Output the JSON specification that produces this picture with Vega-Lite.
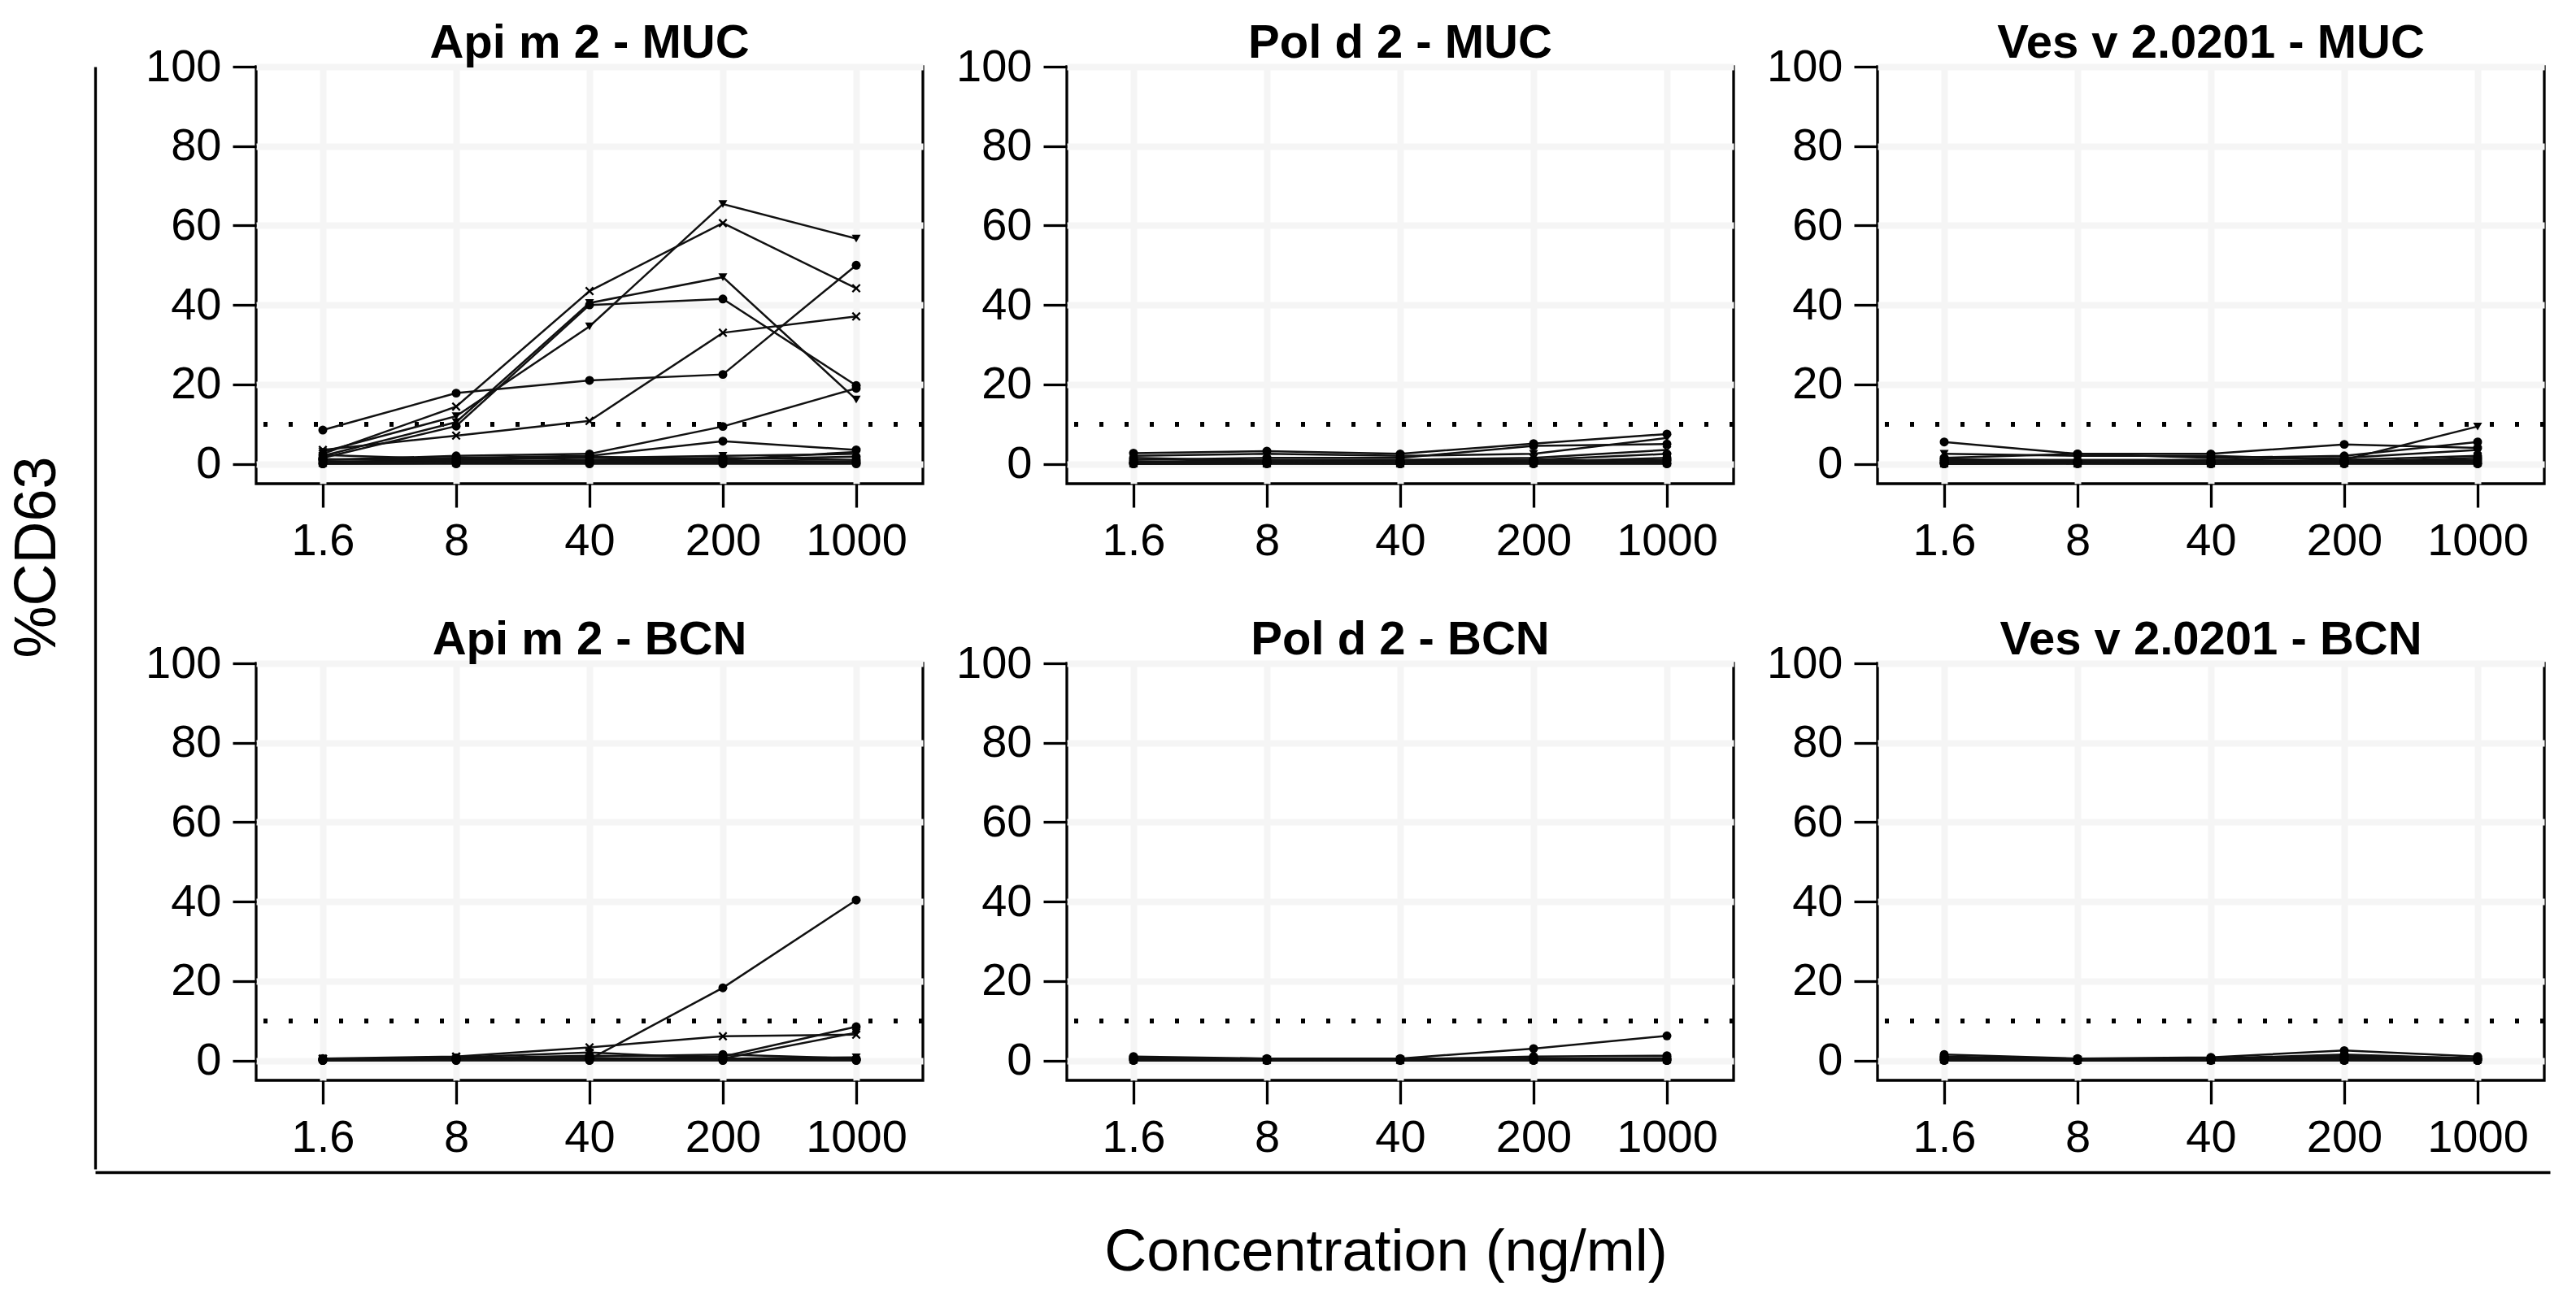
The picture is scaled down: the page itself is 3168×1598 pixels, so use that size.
{
"$schema": "https://vega.github.io/schema/vega-lite/v6.json",
"padding": {"left": 9, "top": 23, "right": 5, "bottom": 5},
"config": {"font": "Liberation Sans", "view": {"stroke": "black", "strokeWidth": 3.3}},
"datasets": {"d": [
{"p":"Api m 2 - MUC","s":1,"m":"t","c":1.6,"v":3.0},{"p":"Api m 2 - MUC","s":1,"m":"t","c":8,"v":12.0},{"p":"Api m 2 - MUC","s":1,"m":"t","c":40,"v":34.6},{"p":"Api m 2 - MUC","s":1,"m":"t","c":200,"v":65.4},{"p":"Api m 2 - MUC","s":1,"m":"t","c":1000,"v":56.7},
{"p":"Api m 2 - MUC","s":2,"m":"x","c":1.6,"v":2.5},{"p":"Api m 2 - MUC","s":2,"m":"x","c":8,"v":14.4},{"p":"Api m 2 - MUC","s":2,"m":"x","c":40,"v":43.5},{"p":"Api m 2 - MUC","s":2,"m":"x","c":200,"v":60.6},{"p":"Api m 2 - MUC","s":2,"m":"x","c":1000,"v":44.2},
{"p":"Api m 2 - MUC","s":3,"m":"t","c":1.6,"v":2.0},{"p":"Api m 2 - MUC","s":3,"m":"t","c":8,"v":10.5},{"p":"Api m 2 - MUC","s":3,"m":"t","c":40,"v":40.5},{"p":"Api m 2 - MUC","s":3,"m":"t","c":200,"v":47.0},{"p":"Api m 2 - MUC","s":3,"m":"t","c":1000,"v":16.2},
{"p":"Api m 2 - MUC","s":4,"m":"c","c":1.6,"v":1.5},{"p":"Api m 2 - MUC","s":4,"m":"c","c":8,"v":9.5},{"p":"Api m 2 - MUC","s":4,"m":"c","c":40,"v":40.0},{"p":"Api m 2 - MUC","s":4,"m":"c","c":200,"v":41.5},{"p":"Api m 2 - MUC","s":4,"m":"c","c":1000,"v":19.7},
{"p":"Api m 2 - MUC","s":5,"m":"c","c":1.6,"v":8.5},{"p":"Api m 2 - MUC","s":5,"m":"c","c":8,"v":17.8},{"p":"Api m 2 - MUC","s":5,"m":"c","c":40,"v":21.0},{"p":"Api m 2 - MUC","s":5,"m":"c","c":200,"v":22.5},{"p":"Api m 2 - MUC","s":5,"m":"c","c":1000,"v":50.0},
{"p":"Api m 2 - MUC","s":6,"m":"x","c":1.6,"v":3.5},{"p":"Api m 2 - MUC","s":6,"m":"x","c":8,"v":7.1},{"p":"Api m 2 - MUC","s":6,"m":"x","c":40,"v":10.8},{"p":"Api m 2 - MUC","s":6,"m":"x","c":200,"v":33.0},{"p":"Api m 2 - MUC","s":6,"m":"x","c":1000,"v":37.1},
{"p":"Api m 2 - MUC","s":7,"m":"c","c":1.6,"v":1.0},{"p":"Api m 2 - MUC","s":7,"m":"c","c":8,"v":2.0},{"p":"Api m 2 - MUC","s":7,"m":"c","c":40,"v":2.5},{"p":"Api m 2 - MUC","s":7,"m":"c","c":200,"v":9.4},{"p":"Api m 2 - MUC","s":7,"m":"c","c":1000,"v":19.0},
{"p":"Api m 2 - MUC","s":8,"m":"c","c":1.6,"v":1.0},{"p":"Api m 2 - MUC","s":8,"m":"c","c":8,"v":1.5},{"p":"Api m 2 - MUC","s":8,"m":"c","c":40,"v":2.0},{"p":"Api m 2 - MUC","s":8,"m":"c","c":200,"v":5.7},{"p":"Api m 2 - MUC","s":8,"m":"c","c":1000,"v":3.5},
{"p":"Api m 2 - MUC","s":9,"m":"t","c":1.6,"v":0.5},{"p":"Api m 2 - MUC","s":9,"m":"t","c":8,"v":1.0},{"p":"Api m 2 - MUC","s":9,"m":"t","c":40,"v":1.5},{"p":"Api m 2 - MUC","s":9,"m":"t","c":200,"v":2.0},{"p":"Api m 2 - MUC","s":9,"m":"t","c":1000,"v":2.5},
{"p":"Api m 2 - MUC","s":10,"m":"c","c":1.6,"v":0.5},{"p":"Api m 2 - MUC","s":10,"m":"c","c":8,"v":0.5},{"p":"Api m 2 - MUC","s":10,"m":"c","c":40,"v":1.0},{"p":"Api m 2 - MUC","s":10,"m":"c","c":200,"v":1.5},{"p":"Api m 2 - MUC","s":10,"m":"c","c":1000,"v":1.0},
{"p":"Api m 2 - MUC","s":11,"m":"x","c":1.6,"v":0.2},{"p":"Api m 2 - MUC","s":11,"m":"x","c":8,"v":0.3},{"p":"Api m 2 - MUC","s":11,"m":"x","c":40,"v":0.5},{"p":"Api m 2 - MUC","s":11,"m":"x","c":200,"v":0.5},{"p":"Api m 2 - MUC","s":11,"m":"x","c":1000,"v":0.5},
{"p":"Api m 2 - MUC","s":12,"m":"c","c":1.6,"v":0.0},{"p":"Api m 2 - MUC","s":12,"m":"c","c":8,"v":0.2},{"p":"Api m 2 - MUC","s":12,"m":"c","c":40,"v":0.2},{"p":"Api m 2 - MUC","s":12,"m":"c","c":200,"v":0.3},{"p":"Api m 2 - MUC","s":12,"m":"c","c":1000,"v":0.2},
{"p":"Api m 2 - MUC","s":13,"m":"c","c":1.6,"v":0.0},{"p":"Api m 2 - MUC","s":13,"m":"c","c":8,"v":0.0},{"p":"Api m 2 - MUC","s":13,"m":"c","c":40,"v":0.0},{"p":"Api m 2 - MUC","s":13,"m":"c","c":200,"v":0.0},{"p":"Api m 2 - MUC","s":13,"m":"c","c":1000,"v":0.0},
{"p":"Api m 2 - MUC","s":14,"m":"t","c":1.6,"v":0.3},{"p":"Api m 2 - MUC","s":14,"m":"t","c":8,"v":0.5},{"p":"Api m 2 - MUC","s":14,"m":"t","c":40,"v":0.8},{"p":"Api m 2 - MUC","s":14,"m":"t","c":200,"v":1.0},{"p":"Api m 2 - MUC","s":14,"m":"t","c":1000,"v":3.0},
{"p":"Api m 2 - MUC","s":15,"m":"c","c":1.6,"v":2.2},{"p":"Api m 2 - MUC","s":15,"m":"c","c":8,"v":1.2},{"p":"Api m 2 - MUC","s":15,"m":"c","c":40,"v":1.8},{"p":"Api m 2 - MUC","s":15,"m":"c","c":200,"v":1.2},{"p":"Api m 2 - MUC","s":15,"m":"c","c":1000,"v":1.8},
{"p":"Api m 2 - MUC","s":16,"m":"c","c":1.6,"v":1.2},{"p":"Api m 2 - MUC","s":16,"m":"c","c":8,"v":0.8},{"p":"Api m 2 - MUC","s":16,"m":"c","c":40,"v":0.6},{"p":"Api m 2 - MUC","s":16,"m":"c","c":200,"v":0.8},{"p":"Api m 2 - MUC","s":16,"m":"c","c":1000,"v":0.6},

{"p":"Pol d 2 - MUC","s":1,"m":"c","c":1.6,"v":2.7},{"p":"Pol d 2 - MUC","s":1,"m":"c","c":8,"v":3.2},{"p":"Pol d 2 - MUC","s":1,"m":"c","c":40,"v":2.5},{"p":"Pol d 2 - MUC","s":1,"m":"c","c":200,"v":5.1},{"p":"Pol d 2 - MUC","s":1,"m":"c","c":1000,"v":7.5},
{"p":"Pol d 2 - MUC","s":2,"m":"t","c":1.6,"v":2.0},{"p":"Pol d 2 - MUC","s":2,"m":"t","c":8,"v":2.5},{"p":"Pol d 2 - MUC","s":2,"m":"t","c":40,"v":2.0},{"p":"Pol d 2 - MUC","s":2,"m":"t","c":200,"v":2.5},{"p":"Pol d 2 - MUC","s":2,"m":"t","c":1000,"v":6.5},
{"p":"Pol d 2 - MUC","s":3,"m":"c","c":1.6,"v":1.0},{"p":"Pol d 2 - MUC","s":3,"m":"c","c":8,"v":1.5},{"p":"Pol d 2 - MUC","s":3,"m":"c","c":40,"v":1.5},{"p":"Pol d 2 - MUC","s":3,"m":"c","c":200,"v":4.5},{"p":"Pol d 2 - MUC","s":3,"m":"c","c":1000,"v":5.0},
{"p":"Pol d 2 - MUC","s":4,"m":"x","c":1.6,"v":0.5},{"p":"Pol d 2 - MUC","s":4,"m":"x","c":8,"v":1.0},{"p":"Pol d 2 - MUC","s":4,"m":"x","c":40,"v":1.0},{"p":"Pol d 2 - MUC","s":4,"m":"x","c":200,"v":1.5},{"p":"Pol d 2 - MUC","s":4,"m":"x","c":1000,"v":3.5},
{"p":"Pol d 2 - MUC","s":5,"m":"c","c":1.6,"v":0.3},{"p":"Pol d 2 - MUC","s":5,"m":"c","c":8,"v":0.5},{"p":"Pol d 2 - MUC","s":5,"m":"c","c":40,"v":0.8},{"p":"Pol d 2 - MUC","s":5,"m":"c","c":200,"v":1.0},{"p":"Pol d 2 - MUC","s":5,"m":"c","c":1000,"v":2.5},
{"p":"Pol d 2 - MUC","s":6,"m":"c","c":1.6,"v":0.2},{"p":"Pol d 2 - MUC","s":6,"m":"c","c":8,"v":0.3},{"p":"Pol d 2 - MUC","s":6,"m":"c","c":40,"v":0.5},{"p":"Pol d 2 - MUC","s":6,"m":"c","c":200,"v":0.5},{"p":"Pol d 2 - MUC","s":6,"m":"c","c":1000,"v":1.5},
{"p":"Pol d 2 - MUC","s":7,"m":"t","c":1.6,"v":0.0},{"p":"Pol d 2 - MUC","s":7,"m":"t","c":8,"v":0.2},{"p":"Pol d 2 - MUC","s":7,"m":"t","c":40,"v":0.2},{"p":"Pol d 2 - MUC","s":7,"m":"t","c":200,"v":0.3},{"p":"Pol d 2 - MUC","s":7,"m":"t","c":1000,"v":0.5},
{"p":"Pol d 2 - MUC","s":8,"m":"c","c":1.6,"v":0.0},{"p":"Pol d 2 - MUC","s":8,"m":"c","c":8,"v":0.0},{"p":"Pol d 2 - MUC","s":8,"m":"c","c":40,"v":0.0},{"p":"Pol d 2 - MUC","s":8,"m":"c","c":200,"v":0.0},{"p":"Pol d 2 - MUC","s":8,"m":"c","c":1000,"v":0.0},
{"p":"Pol d 2 - MUC","s":9,"m":"c","c":1.6,"v":0.5},{"p":"Pol d 2 - MUC","s":9,"m":"c","c":8,"v":0.5},{"p":"Pol d 2 - MUC","s":9,"m":"c","c":40,"v":0.3},{"p":"Pol d 2 - MUC","s":9,"m":"c","c":200,"v":0.5},{"p":"Pol d 2 - MUC","s":9,"m":"c","c":1000,"v":1.0},
{"p":"Pol d 2 - MUC","s":10,"m":"x","c":1.6,"v":0.1},{"p":"Pol d 2 - MUC","s":10,"m":"x","c":8,"v":0.1},{"p":"Pol d 2 - MUC","s":10,"m":"x","c":40,"v":0.1},{"p":"Pol d 2 - MUC","s":10,"m":"x","c":200,"v":0.2},{"p":"Pol d 2 - MUC","s":10,"m":"x","c":1000,"v":0.3},
{"p":"Pol d 2 - MUC","s":11,"m":"c","c":1.6,"v":1.5},{"p":"Pol d 2 - MUC","s":11,"m":"c","c":8,"v":0.8},{"p":"Pol d 2 - MUC","s":11,"m":"c","c":40,"v":0.5},{"p":"Pol d 2 - MUC","s":11,"m":"c","c":200,"v":1.0},{"p":"Pol d 2 - MUC","s":11,"m":"c","c":1000,"v":0.8},
{"p":"Pol d 2 - MUC","s":12,"m":"c","c":1.6,"v":0.0},{"p":"Pol d 2 - MUC","s":12,"m":"c","c":8,"v":0.1},{"p":"Pol d 2 - MUC","s":12,"m":"c","c":40,"v":0.0},{"p":"Pol d 2 - MUC","s":12,"m":"c","c":200,"v":0.1},{"p":"Pol d 2 - MUC","s":12,"m":"c","c":1000,"v":0.1},

{"p":"Ves v 2.0201 - MUC","s":1,"m":"c","c":1.6,"v":5.5},{"p":"Ves v 2.0201 - MUC","s":1,"m":"c","c":8,"v":2.5},{"p":"Ves v 2.0201 - MUC","s":1,"m":"c","c":40,"v":2.5},{"p":"Ves v 2.0201 - MUC","s":1,"m":"c","c":200,"v":4.9},{"p":"Ves v 2.0201 - MUC","s":1,"m":"c","c":1000,"v":4.0},
{"p":"Ves v 2.0201 - MUC","s":2,"m":"t","c":1.6,"v":2.5},{"p":"Ves v 2.0201 - MUC","s":2,"m":"t","c":8,"v":2.0},{"p":"Ves v 2.0201 - MUC","s":2,"m":"t","c":40,"v":2.0},{"p":"Ves v 2.0201 - MUC","s":2,"m":"t","c":200,"v":1.0},{"p":"Ves v 2.0201 - MUC","s":2,"m":"t","c":1000,"v":9.4},
{"p":"Ves v 2.0201 - MUC","s":3,"m":"c","c":1.6,"v":1.5},{"p":"Ves v 2.0201 - MUC","s":3,"m":"c","c":8,"v":2.5},{"p":"Ves v 2.0201 - MUC","s":3,"m":"c","c":40,"v":1.5},{"p":"Ves v 2.0201 - MUC","s":3,"m":"c","c":200,"v":2.0},{"p":"Ves v 2.0201 - MUC","s":3,"m":"c","c":1000,"v":5.5},
{"p":"Ves v 2.0201 - MUC","s":4,"m":"x","c":1.6,"v":1.0},{"p":"Ves v 2.0201 - MUC","s":4,"m":"x","c":8,"v":1.0},{"p":"Ves v 2.0201 - MUC","s":4,"m":"x","c":40,"v":1.0},{"p":"Ves v 2.0201 - MUC","s":4,"m":"x","c":200,"v":1.5},{"p":"Ves v 2.0201 - MUC","s":4,"m":"x","c":1000,"v":3.5},
{"p":"Ves v 2.0201 - MUC","s":5,"m":"c","c":1.6,"v":0.5},{"p":"Ves v 2.0201 - MUC","s":5,"m":"c","c":8,"v":0.5},{"p":"Ves v 2.0201 - MUC","s":5,"m":"c","c":40,"v":0.5},{"p":"Ves v 2.0201 - MUC","s":5,"m":"c","c":200,"v":1.0},{"p":"Ves v 2.0201 - MUC","s":5,"m":"c","c":1000,"v":2.0},
{"p":"Ves v 2.0201 - MUC","s":6,"m":"c","c":1.6,"v":0.3},{"p":"Ves v 2.0201 - MUC","s":6,"m":"c","c":8,"v":0.3},{"p":"Ves v 2.0201 - MUC","s":6,"m":"c","c":40,"v":0.3},{"p":"Ves v 2.0201 - MUC","s":6,"m":"c","c":200,"v":0.5},{"p":"Ves v 2.0201 - MUC","s":6,"m":"c","c":1000,"v":1.0},
{"p":"Ves v 2.0201 - MUC","s":7,"m":"t","c":1.6,"v":0.0},{"p":"Ves v 2.0201 - MUC","s":7,"m":"t","c":8,"v":0.2},{"p":"Ves v 2.0201 - MUC","s":7,"m":"t","c":40,"v":0.2},{"p":"Ves v 2.0201 - MUC","s":7,"m":"t","c":200,"v":0.3},{"p":"Ves v 2.0201 - MUC","s":7,"m":"t","c":1000,"v":0.5},
{"p":"Ves v 2.0201 - MUC","s":8,"m":"c","c":1.6,"v":0.0},{"p":"Ves v 2.0201 - MUC","s":8,"m":"c","c":8,"v":0.0},{"p":"Ves v 2.0201 - MUC","s":8,"m":"c","c":40,"v":0.0},{"p":"Ves v 2.0201 - MUC","s":8,"m":"c","c":200,"v":0.0},{"p":"Ves v 2.0201 - MUC","s":8,"m":"c","c":1000,"v":0.0},
{"p":"Ves v 2.0201 - MUC","s":9,"m":"c","c":1.6,"v":0.8},{"p":"Ves v 2.0201 - MUC","s":9,"m":"c","c":8,"v":0.5},{"p":"Ves v 2.0201 - MUC","s":9,"m":"c","c":40,"v":0.8},{"p":"Ves v 2.0201 - MUC","s":9,"m":"c","c":200,"v":0.5},{"p":"Ves v 2.0201 - MUC","s":9,"m":"c","c":1000,"v":1.5},
{"p":"Ves v 2.0201 - MUC","s":10,"m":"x","c":1.6,"v":0.1},{"p":"Ves v 2.0201 - MUC","s":10,"m":"x","c":8,"v":0.1},{"p":"Ves v 2.0201 - MUC","s":10,"m":"x","c":40,"v":0.1},{"p":"Ves v 2.0201 - MUC","s":10,"m":"x","c":200,"v":0.2},{"p":"Ves v 2.0201 - MUC","s":10,"m":"x","c":1000,"v":0.3},
{"p":"Ves v 2.0201 - MUC","s":11,"m":"c","c":1.6,"v":1.2},{"p":"Ves v 2.0201 - MUC","s":11,"m":"c","c":8,"v":0.8},{"p":"Ves v 2.0201 - MUC","s":11,"m":"c","c":40,"v":0.5},{"p":"Ves v 2.0201 - MUC","s":11,"m":"c","c":200,"v":0.8},{"p":"Ves v 2.0201 - MUC","s":11,"m":"c","c":1000,"v":0.6},
{"p":"Ves v 2.0201 - MUC","s":12,"m":"c","c":1.6,"v":0.0},{"p":"Ves v 2.0201 - MUC","s":12,"m":"c","c":8,"v":0.1},{"p":"Ves v 2.0201 - MUC","s":12,"m":"c","c":40,"v":0.0},{"p":"Ves v 2.0201 - MUC","s":12,"m":"c","c":200,"v":0.1},{"p":"Ves v 2.0201 - MUC","s":12,"m":"c","c":1000,"v":0.1},

{"p":"Api m 2 - BCN","s":1,"m":"c","c":1.6,"v":0.2},{"p":"Api m 2 - BCN","s":1,"m":"c","c":8,"v":0.5},{"p":"Api m 2 - BCN","s":1,"m":"c","c":40,"v":0.3},{"p":"Api m 2 - BCN","s":1,"m":"c","c":200,"v":18.3},{"p":"Api m 2 - BCN","s":1,"m":"c","c":1000,"v":40.4},
{"p":"Api m 2 - BCN","s":2,"m":"x","c":1.6,"v":0.5},{"p":"Api m 2 - BCN","s":2,"m":"x","c":8,"v":1.0},{"p":"Api m 2 - BCN","s":2,"m":"x","c":40,"v":3.3},{"p":"Api m 2 - BCN","s":2,"m":"x","c":200,"v":6.1},{"p":"Api m 2 - BCN","s":2,"m":"x","c":1000,"v":6.5},
{"p":"Api m 2 - BCN","s":3,"m":"c","c":1.6,"v":0.3},{"p":"Api m 2 - BCN","s":3,"m":"c","c":8,"v":0.6},{"p":"Api m 2 - BCN","s":3,"m":"c","c":40,"v":1.2},{"p":"Api m 2 - BCN","s":3,"m":"c","c":200,"v":1.0},{"p":"Api m 2 - BCN","s":3,"m":"c","c":1000,"v":8.5},
{"p":"Api m 2 - BCN","s":4,"m":"t","c":1.6,"v":0.2},{"p":"Api m 2 - BCN","s":4,"m":"t","c":8,"v":0.8},{"p":"Api m 2 - BCN","s":4,"m":"t","c":40,"v":2.0},{"p":"Api m 2 - BCN","s":4,"m":"t","c":200,"v":0.5},{"p":"Api m 2 - BCN","s":4,"m":"t","c":1000,"v":7.0},
{"p":"Api m 2 - BCN","s":5,"m":"c","c":1.6,"v":0.5},{"p":"Api m 2 - BCN","s":5,"m":"c","c":8,"v":0.5},{"p":"Api m 2 - BCN","s":5,"m":"c","c":40,"v":1.0},{"p":"Api m 2 - BCN","s":5,"m":"c","c":200,"v":1.5},{"p":"Api m 2 - BCN","s":5,"m":"c","c":1000,"v":0.5},
{"p":"Api m 2 - BCN","s":6,"m":"c","c":1.6,"v":0.0},{"p":"Api m 2 - BCN","s":6,"m":"c","c":8,"v":0.2},{"p":"Api m 2 - BCN","s":6,"m":"c","c":40,"v":0.3},{"p":"Api m 2 - BCN","s":6,"m":"c","c":200,"v":0.2},{"p":"Api m 2 - BCN","s":6,"m":"c","c":1000,"v":0.3},
{"p":"Api m 2 - BCN","s":7,"m":"c","c":1.6,"v":0.0},{"p":"Api m 2 - BCN","s":7,"m":"c","c":8,"v":0.0},{"p":"Api m 2 - BCN","s":7,"m":"c","c":40,"v":0.0},{"p":"Api m 2 - BCN","s":7,"m":"c","c":200,"v":0.0},{"p":"Api m 2 - BCN","s":7,"m":"c","c":1000,"v":0.0},
{"p":"Api m 2 - BCN","s":8,"m":"t","c":1.6,"v":0.3},{"p":"Api m 2 - BCN","s":8,"m":"t","c":8,"v":0.3},{"p":"Api m 2 - BCN","s":8,"m":"t","c":40,"v":0.5},{"p":"Api m 2 - BCN","s":8,"m":"t","c":200,"v":0.5},{"p":"Api m 2 - BCN","s":8,"m":"t","c":1000,"v":0.8},
{"p":"Api m 2 - BCN","s":9,"m":"c","c":1.6,"v":0.1},{"p":"Api m 2 - BCN","s":9,"m":"c","c":8,"v":0.1},{"p":"Api m 2 - BCN","s":9,"m":"c","c":40,"v":0.2},{"p":"Api m 2 - BCN","s":9,"m":"c","c":200,"v":0.3},{"p":"Api m 2 - BCN","s":9,"m":"c","c":1000,"v":0.2},
{"p":"Api m 2 - BCN","s":10,"m":"c","c":1.6,"v":0.4},{"p":"Api m 2 - BCN","s":10,"m":"c","c":8,"v":0.2},{"p":"Api m 2 - BCN","s":10,"m":"c","c":40,"v":0.1},{"p":"Api m 2 - BCN","s":10,"m":"c","c":200,"v":0.1},{"p":"Api m 2 - BCN","s":10,"m":"c","c":1000,"v":0.1},

{"p":"Pol d 2 - BCN","s":1,"m":"c","c":1.6,"v":1.0},{"p":"Pol d 2 - BCN","s":1,"m":"c","c":8,"v":0.5},{"p":"Pol d 2 - BCN","s":1,"m":"c","c":40,"v":0.5},{"p":"Pol d 2 - BCN","s":1,"m":"c","c":200,"v":3.0},{"p":"Pol d 2 - BCN","s":1,"m":"c","c":1000,"v":6.2},
{"p":"Pol d 2 - BCN","s":2,"m":"c","c":1.6,"v":0.5},{"p":"Pol d 2 - BCN","s":2,"m":"c","c":8,"v":0.3},{"p":"Pol d 2 - BCN","s":2,"m":"c","c":40,"v":0.3},{"p":"Pol d 2 - BCN","s":2,"m":"c","c":200,"v":1.0},{"p":"Pol d 2 - BCN","s":2,"m":"c","c":1000,"v":1.2},
{"p":"Pol d 2 - BCN","s":3,"m":"t","c":1.6,"v":0.3},{"p":"Pol d 2 - BCN","s":3,"m":"t","c":8,"v":0.2},{"p":"Pol d 2 - BCN","s":3,"m":"t","c":40,"v":0.2},{"p":"Pol d 2 - BCN","s":3,"m":"t","c":200,"v":0.3},{"p":"Pol d 2 - BCN","s":3,"m":"t","c":1000,"v":0.5},
{"p":"Pol d 2 - BCN","s":4,"m":"c","c":1.6,"v":0.0},{"p":"Pol d 2 - BCN","s":4,"m":"c","c":8,"v":0.0},{"p":"Pol d 2 - BCN","s":4,"m":"c","c":40,"v":0.0},{"p":"Pol d 2 - BCN","s":4,"m":"c","c":200,"v":0.0},{"p":"Pol d 2 - BCN","s":4,"m":"c","c":1000,"v":0.0},
{"p":"Pol d 2 - BCN","s":5,"m":"x","c":1.6,"v":0.2},{"p":"Pol d 2 - BCN","s":5,"m":"x","c":8,"v":0.1},{"p":"Pol d 2 - BCN","s":5,"m":"x","c":40,"v":0.1},{"p":"Pol d 2 - BCN","s":5,"m":"x","c":200,"v":0.2},{"p":"Pol d 2 - BCN","s":5,"m":"x","c":1000,"v":0.2},
{"p":"Pol d 2 - BCN","s":6,"m":"c","c":1.6,"v":0.6},{"p":"Pol d 2 - BCN","s":6,"m":"c","c":8,"v":0.4},{"p":"Pol d 2 - BCN","s":6,"m":"c","c":40,"v":0.3},{"p":"Pol d 2 - BCN","s":6,"m":"c","c":200,"v":0.5},{"p":"Pol d 2 - BCN","s":6,"m":"c","c":1000,"v":0.4},
{"p":"Pol d 2 - BCN","s":7,"m":"c","c":1.6,"v":0.1},{"p":"Pol d 2 - BCN","s":7,"m":"c","c":8,"v":0.0},{"p":"Pol d 2 - BCN","s":7,"m":"c","c":40,"v":0.1},{"p":"Pol d 2 - BCN","s":7,"m":"c","c":200,"v":0.1},{"p":"Pol d 2 - BCN","s":7,"m":"c","c":1000,"v":0.0},
{"p":"Pol d 2 - BCN","s":8,"m":"c","c":1.6,"v":0.3},{"p":"Pol d 2 - BCN","s":8,"m":"c","c":8,"v":0.2},{"p":"Pol d 2 - BCN","s":8,"m":"c","c":40,"v":0.4},{"p":"Pol d 2 - BCN","s":8,"m":"c","c":200,"v":0.2},{"p":"Pol d 2 - BCN","s":8,"m":"c","c":1000,"v":0.3},
{"p":"Pol d 2 - BCN","s":9,"m":"t","c":1.6,"v":0.0},{"p":"Pol d 2 - BCN","s":9,"m":"t","c":8,"v":0.1},{"p":"Pol d 2 - BCN","s":9,"m":"t","c":40,"v":0.0},{"p":"Pol d 2 - BCN","s":9,"m":"t","c":200,"v":0.1},{"p":"Pol d 2 - BCN","s":9,"m":"t","c":1000,"v":0.1},
{"p":"Pol d 2 - BCN","s":10,"m":"c","c":1.6,"v":0.8},{"p":"Pol d 2 - BCN","s":10,"m":"c","c":8,"v":0.3},{"p":"Pol d 2 - BCN","s":10,"m":"c","c":40,"v":0.2},{"p":"Pol d 2 - BCN","s":10,"m":"c","c":200,"v":0.4},{"p":"Pol d 2 - BCN","s":10,"m":"c","c":1000,"v":0.6},

{"p":"Ves v 2.0201 - BCN","s":1,"m":"c","c":1.6,"v":1.5},{"p":"Ves v 2.0201 - BCN","s":1,"m":"c","c":8,"v":0.5},{"p":"Ves v 2.0201 - BCN","s":1,"m":"c","c":40,"v":0.8},{"p":"Ves v 2.0201 - BCN","s":1,"m":"c","c":200,"v":2.5},{"p":"Ves v 2.0201 - BCN","s":1,"m":"c","c":1000,"v":1.0},
{"p":"Ves v 2.0201 - BCN","s":2,"m":"c","c":1.6,"v":1.0},{"p":"Ves v 2.0201 - BCN","s":2,"m":"c","c":8,"v":0.3},{"p":"Ves v 2.0201 - BCN","s":2,"m":"c","c":40,"v":0.5},{"p":"Ves v 2.0201 - BCN","s":2,"m":"c","c":200,"v":1.5},{"p":"Ves v 2.0201 - BCN","s":2,"m":"c","c":1000,"v":0.5},
{"p":"Ves v 2.0201 - BCN","s":3,"m":"t","c":1.6,"v":0.3},{"p":"Ves v 2.0201 - BCN","s":3,"m":"t","c":8,"v":0.2},{"p":"Ves v 2.0201 - BCN","s":3,"m":"t","c":40,"v":0.2},{"p":"Ves v 2.0201 - BCN","s":3,"m":"t","c":200,"v":0.5},{"p":"Ves v 2.0201 - BCN","s":3,"m":"t","c":1000,"v":0.3},
{"p":"Ves v 2.0201 - BCN","s":4,"m":"c","c":1.6,"v":0.0},{"p":"Ves v 2.0201 - BCN","s":4,"m":"c","c":8,"v":0.0},{"p":"Ves v 2.0201 - BCN","s":4,"m":"c","c":40,"v":0.0},{"p":"Ves v 2.0201 - BCN","s":4,"m":"c","c":200,"v":0.0},{"p":"Ves v 2.0201 - BCN","s":4,"m":"c","c":1000,"v":0.0},
{"p":"Ves v 2.0201 - BCN","s":5,"m":"x","c":1.6,"v":0.2},{"p":"Ves v 2.0201 - BCN","s":5,"m":"x","c":8,"v":0.1},{"p":"Ves v 2.0201 - BCN","s":5,"m":"x","c":40,"v":0.1},{"p":"Ves v 2.0201 - BCN","s":5,"m":"x","c":200,"v":0.2},{"p":"Ves v 2.0201 - BCN","s":5,"m":"x","c":1000,"v":0.2},
{"p":"Ves v 2.0201 - BCN","s":6,"m":"c","c":1.6,"v":0.6},{"p":"Ves v 2.0201 - BCN","s":6,"m":"c","c":8,"v":0.4},{"p":"Ves v 2.0201 - BCN","s":6,"m":"c","c":40,"v":0.3},{"p":"Ves v 2.0201 - BCN","s":6,"m":"c","c":200,"v":0.8},{"p":"Ves v 2.0201 - BCN","s":6,"m":"c","c":1000,"v":0.4},
{"p":"Ves v 2.0201 - BCN","s":7,"m":"c","c":1.6,"v":0.1},{"p":"Ves v 2.0201 - BCN","s":7,"m":"c","c":8,"v":0.0},{"p":"Ves v 2.0201 - BCN","s":7,"m":"c","c":40,"v":0.1},{"p":"Ves v 2.0201 - BCN","s":7,"m":"c","c":200,"v":0.1},{"p":"Ves v 2.0201 - BCN","s":7,"m":"c","c":1000,"v":0.0},
{"p":"Ves v 2.0201 - BCN","s":8,"m":"c","c":1.6,"v":0.3},{"p":"Ves v 2.0201 - BCN","s":8,"m":"c","c":8,"v":0.2},{"p":"Ves v 2.0201 - BCN","s":8,"m":"c","c":40,"v":0.4},{"p":"Ves v 2.0201 - BCN","s":8,"m":"c","c":200,"v":0.2},{"p":"Ves v 2.0201 - BCN","s":8,"m":"c","c":1000,"v":0.3},
{"p":"Ves v 2.0201 - BCN","s":9,"m":"t","c":1.6,"v":0.0},{"p":"Ves v 2.0201 - BCN","s":9,"m":"t","c":8,"v":0.1},{"p":"Ves v 2.0201 - BCN","s":9,"m":"t","c":40,"v":0.0},{"p":"Ves v 2.0201 - BCN","s":9,"m":"t","c":200,"v":0.1},{"p":"Ves v 2.0201 - BCN","s":9,"m":"t","c":1000,"v":0.1},
{"p":"Ves v 2.0201 - BCN","s":10,"m":"c","c":1.6,"v":0.8},{"p":"Ves v 2.0201 - BCN","s":10,"m":"c","c":8,"v":0.3},{"p":"Ves v 2.0201 - BCN","s":10,"m":"c","c":40,"v":0.2},{"p":"Ves v 2.0201 - BCN","s":10,"m":"c","c":200,"v":1.2},{"p":"Ves v 2.0201 - BCN","s":10,"m":"c","c":1000,"v":0.6}
]},
"spacing": 0,
"vconcat": [
 {
  "spacing": 55,
  "hconcat": [
   {
    "data": {"name": "d"},
    "width": 1,
    "height": 1356,
    "view": {"stroke": null},
    "mark": {"type": "point", "opacity": 0},
    "encoding": {
     "y": {"field": "v", "type": "quantitative", "scale": {"domain": [-5, 100], "nice": false},
      "axis": {"title": "%CD63", "labels": false, "ticks": false, "grid": false, "domain": true, "domainColor": "black", "domainWidth": 3.3, "titleFontSize": 72, "titleFontWeight": "normal", "titleColor": "black", "titlePadding": 35, "titleY": 603}}
    }
   },
   {
    "data": {"name": "d"},
    "facet": {"field": "p", "type": "nominal", "title": null,
      "sort": ["Api m 2 - MUC", "Pol d 2 - MUC", "Ves v 2.0201 - MUC", "Api m 2 - BCN", "Pol d 2 - BCN", "Ves v 2.0201 - BCN"],
      "header": {"labelFontSize": 58, "labelFontWeight": "bold", "labelColor": "black", "labelOrient": "top", "labelPadding": -29}},
    "columns": 3,
    "spacing": {"row": 62, "column": 33},
    "resolve": {"axis": {"x": "independent", "y": "independent"}},
    "spec": {
     "width": 820,
     "height": 513,
     "layer": [
      {
       "mark": {"type": "rule", "color": "black", "strokeWidth": 5.5, "strokeDash": [5, 26]},
       "encoding": {"y": {"datum": 10}}
      },
      {
       "mark": {"type": "line", "color": "#111111", "strokeWidth": 2.5},
       "encoding": {
        "x": {"field": "c", "type": "ordinal", "scale": {"type": "point", "padding": 0.5},
         "axis": {"title": null, "labelAngle": 0, "labelFontSize": 56, "labelColor": "black", "labelPadding": 14, "tickSize": 29, "tickWidth": 3.3, "tickColor": "black", "domain": false, "grid": true, "gridColor": "#f5f5f5", "gridWidth": 8}},
        "y": {"field": "v", "type": "quantitative", "scale": {"domain": [-5, 100], "nice": false, "zero": false},
         "axis": {"title": null, "values": [0, 20, 40, 60, 80, 100], "labelFontSize": 56, "labelColor": "black", "labelPadding": 14, "tickSize": 29, "tickWidth": 3.3, "tickColor": "black", "domain": false, "grid": true, "gridColor": "#f5f5f5", "gridWidth": 8}},
        "detail": {"field": "s", "type": "nominal"}
       }
      },
      {
       "mark": {"type": "point", "filled": true, "color": "black", "size": 120, "opacity": 1},
       "encoding": {
        "x": {"field": "c", "type": "ordinal"},
        "y": {"field": "v", "type": "quantitative"},
        "shape": {"field": "m", "type": "nominal", "legend": null,
         "scale": {"domain": ["c", "t", "x"], "range": ["circle", "triangle-down", "M-1,-0.7L-0.7,-1L0,-0.3L0.7,-1L1,-0.7L0.3,0L1,0.7L0.7,1L0,0.3L-0.7,1L-1,0.7L-0.3,0Z"]}}
       }
      }
     ]
    }
   }
  ]
 },
 {
  "data": {"name": "d"},
  "width": 3019,
  "height": 1,
  "view": {"stroke": null},
  "mark": {"type": "point", "opacity": 0},
  "encoding": {
   "x": {"field": "v", "type": "quantitative",
    "axis": {"title": "Concentration (ng/ml)", "labels": false, "ticks": false, "grid": false, "domain": true, "domainColor": "black", "domainWidth": 3.3, "titleFontSize": 72, "titleFontWeight": "normal", "titleColor": "black", "titlePadding": 63, "titleX": 1587}}
  }
 }
]
}
